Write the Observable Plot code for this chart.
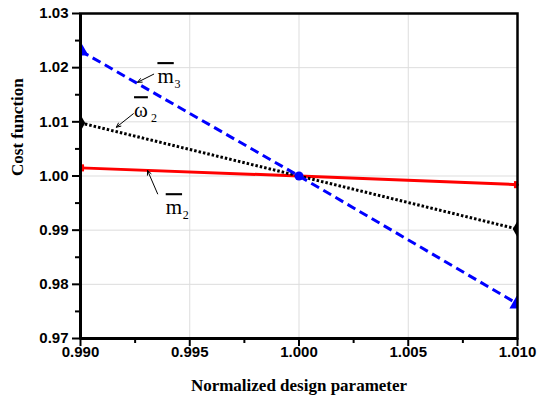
<!DOCTYPE html>
<html><head><meta charset="utf-8">
<script src="https://cdn.jsdelivr.net/npm/d3@7"></script>
<script src="https://cdn.jsdelivr.net/npm/@observablehq/plot@0.6"></script>
<style>body{margin:0;background:#fff}.ovl{text-decoration:overline}</style>
</head><body><div id="chart"></div>
<script>
const xs = [0.99, 1.00, 1.01];
const m3 = [1.0231, 1.0000, 0.9764];
const w2 = [1.0098, 1.0000, 0.9902];
const m2 = [1.0015, 1.0000, 0.9984];
const xTicks = [0.990, 0.995, 1.000, 1.005, 1.010];
const xMinor = [0.9925, 0.9975, 1.0025, 1.0075];
const yTicks = [0.97, 0.98, 0.99, 1.00, 1.01, 1.02, 1.03];
const yMinor = [0.975, 0.985, 0.995, 1.005, 1.015, 1.025];
// annotation labels (data units)
const labels = [
  {name: "m", sub: "3", x: 0.99352, y: 1.0184, ax1: 0.99335, ay1: 1.0188, ax2: 0.99261, ay2: 1.0173},
  {name: "\u03C9", sub: "2", x: 0.99245, y: 1.0121, ax1: 0.99242, ay1: 1.0115, ax2: 0.99164, ay2: 1.0090},
  {name: "m", sub: "2", x: 0.99390, y: 0.9942, ax1: 0.99353, ay1: 0.9967, ax2: 0.99307, ay2: 1.0010}
];
const series = (ys, k) => xs.map((x, i) => ({x, y: ys[i], k, i}));
const d3s = series(m3, "m3"), dw2 = series(w2, "w2"), dm2 = series(m2, "m2");
const ends = a => a.filter(d => d.i !== 1);
const sans = "Liberation Sans, Arial, sans-serif";
const serif = "Liberation Serif, Times New Roman, serif";
const fx = d3.format(".3f"), fy = d3.format(".2f");

const chart = Plot.plot({
  width: 537, height: 402,
  marginLeft: 80, marginRight: 20, marginTop: 13, marginBottom: 64,
  x: {domain: [0.99, 1.01]},
  y: {domain: [0.97, 1.03]},
  style: {background: "#fff"},
  marks: [
    Plot.gridX(xTicks, {stroke: "#ddd", strokeOpacity: 1, strokeWidth: 1}),
    Plot.gridY(yTicks, {stroke: "#ddd", strokeOpacity: 1, strokeWidth: 1}),
    Plot.axisX({ticks: xTicks, tickFormat: () => "", tickSize: 8, strokeWidth: 2, label: null}),
    Plot.axisX({ticks: xMinor, tickFormat: () => "", tickSize: 5, strokeWidth: 2, label: null}),
    Plot.axisY({ticks: yTicks, tickFormat: () => "", tickSize: 8, strokeWidth: 2, label: null}),
    Plot.axisY({ticks: yMinor, tickFormat: () => "", tickSize: 5, strokeWidth: 2, label: null}),
    Plot.text(xTicks, {x: d => d, text: d => fx(d), frameAnchor: "bottom", dy: 18, fontSize: 15, fontWeight: "bold", fontFamily: sans, fill: "#000"}),
    Plot.text(yTicks, {y: d => d, text: d => fy(d), frameAnchor: "left", dx: -12, textAnchor: "end", fontSize: 15, fontWeight: "bold", fontFamily: sans, fill: "#000"}),
    Plot.line(dm2, {x: "x", y: "y", stroke: "#ff0000", strokeWidth: 3}),
    Plot.line(dw2, {x: "x", y: "y", stroke: "#000", strokeWidth: 3, strokeDasharray: "2.5,2", strokeLinecap: "butt"}),
    Plot.line(d3s, {x: "x", y: "y", stroke: "#0000ff", strokeWidth: 3, strokeDasharray: "9,5", strokeLinecap: "butt"}),
    Plot.dot(ends(dm2), {x: "x", y: "y", symbol: "square", r: 4, fill: "#ff0000", clip: "frame"}),
    Plot.dot(ends(dw2), {x: "x", y: "y", symbol: "diamond", r: 5, fill: "#000", clip: "frame"}),
    Plot.dot(ends(d3s), {x: "x", y: "y", symbol: "triangle", r: 6, fill: "#0000ff", clip: "frame"}),
    Plot.dot([d3s[1]], {x: "x", y: "y", r: 4.5, fill: "#0000ff"}),
    Plot.frame({stroke: "#000", strokeWidth: 2.5}),
    Plot.ruleX([0.99], {stroke: "#000", strokeWidth: 3}),
    Plot.ruleY([0.97], {stroke: "#000", strokeWidth: 3}),
    Plot.arrow(labels, {x1: "ax1", y1: "ay1", x2: "ax2", y2: "ay2", stroke: "#000", strokeWidth: 1, headLength: 7, headAngle: 50}),
    Plot.text(labels, {x: "x", y: "y", text: "name", className: "ovl", fontFamily: serif, fontWeight: "normal", fontSize: 21, fill: "#000", textAnchor: "start"}),
    Plot.text(labels, {x: "x", y: "y", text: "sub", fontFamily: serif, fontWeight: "normal", fontSize: 12, fill: "#000", textAnchor: "start", dx: 17, dy: 8}),
    Plot.text(["Normalized design parameter"], {frameAnchor: "bottom", dy: 52, fontFamily: serif, fontWeight: "bold", fontSize: 17, fill: "#000"}),
    Plot.text(["Cost function"], {frameAnchor: "left", dx: -63, rotate: -90, fontFamily: serif, fontWeight: "bold", fontSize: 17, fill: "#000"})
  ]
});
document.getElementById("chart").appendChild(chart);
</script></body></html>
